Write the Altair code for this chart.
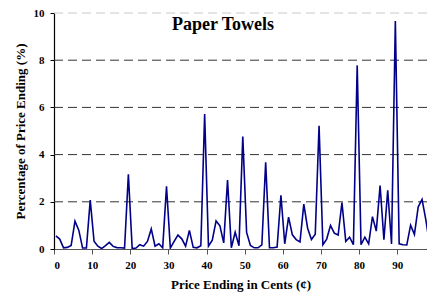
import altair as alt
import pandas as pd

# Percentage of price endings (0..99 cents) for paper towels
endings = list(range(100))
percent = [
    0.56, 0.42, 0.05, 0.07, 0.15, 1.18, 0.80, 0.04, 0.04, 2.07,
    0.33, 0.12, 0.02, 0.14, 0.28, 0.11, 0.06, 0.05, 0.04, 3.17,
    0.02, 0.04, 0.18, 0.12, 0.32, 0.85, 0.12, 0.22, 0.05, 2.66,
    0.04, 0.32, 0.59, 0.43, 0.12, 0.79, 0.07, 0.05, 0.14, 5.72,
    0.12, 0.37, 1.19, 0.98, 0.26, 2.92, 0.05, 0.71, 0.14, 4.77,
    0.70, 0.15, 0.05, 0.05, 0.18, 3.67, 0.05, 0.05, 0.08, 2.28,
    0.22, 1.35, 0.60, 0.40, 0.30, 1.90, 0.88, 0.40, 0.63, 5.22,
    0.18, 0.42, 1.00, 0.67, 0.59, 1.97, 0.32, 0.50, 0.18, 7.78,
    0.18, 0.50, 0.22, 1.37, 0.76, 2.69, 0.39, 2.49, 0.21, 9.66,
    0.22, 0.18, 0.17, 1.01, 0.62, 1.79, 2.10, 1.23, 0.18, 0.20,
]
x_ticks = [0, 10, 20, 30, 40, 50, 60, 70, 80, 90]
grid_dark = [2, 4, 6, 8]
grid_light = [10]

FONT = "Liberation Serif"

df = pd.DataFrame({"ending": endings, "pct": percent})
df["xpos"] = df["ending"] + 0.5

xscale = alt.Scale(domain=[0, 97.8], nice=False, zero=False)
yscale = alt.Scale(domain=[0, 10], nice=False)

line = alt.Chart(df).mark_line(color="#000088", strokeWidth=1.6, clip=True).encode(
    x=alt.X("xpos:Q", scale=xscale,
            axis=alt.Axis(values=x_ticks, title="Price Ending in Cents (¢)",
                          grid=False, tickSize=5, labelPadding=5, titlePadding=8,
                          domainColor="#555", tickColor="#555", domainWidth=1.2)),
    y=alt.Y("pct:Q", scale=yscale,
            axis=alt.Axis(values=[0, 2, 4, 6, 8, 10], format="d",
                          title="Percentage of Price Ending (%)",
                          grid=False, tickSize=4, labelPadding=6, titlePadding=6,
                          domainColor="#000", tickColor="#000", domainWidth=1.2)),
)

rules_dark = alt.Chart(pd.DataFrame({"g": grid_dark})).mark_rule(
    color="#333", strokeWidth=1, strokeDash=[9, 5]
).encode(y=alt.Y("g:Q", scale=yscale))

rules_light = alt.Chart(pd.DataFrame({"g": grid_light})).mark_rule(
    color="#c8c8c8", strokeWidth=1, strokeDash=[9, 5]
).encode(y=alt.Y("g:Q", scale=yscale))

title = alt.Chart(pd.DataFrame({"t": ["Paper Towels"]})).mark_text(
    font=FONT, fontSize=18, fontWeight="bold", color="#000", baseline="alphabetic", align="center"
).encode(x=alt.value(169), y=alt.value(17), text="t:N")

chart = alt.layer(rules_light, rules_dark, line, title).properties(
    width=373, height=236,
    autosize=alt.AutoSizeParams(type="none"),
    padding={"left": 46, "top": 5, "right": 0, "bottom": 46},
).configure_axis(
    labelFont=FONT, labelFontSize=11, labelFontWeight="bold", labelColor="#000",
    titleFont=FONT, titleFontSize=13, titleFontWeight="bold", titleColor="#000",
).configure_view(stroke=None)

chart.save("out.html", embed_options={"renderer": "svg", "actions": False})
